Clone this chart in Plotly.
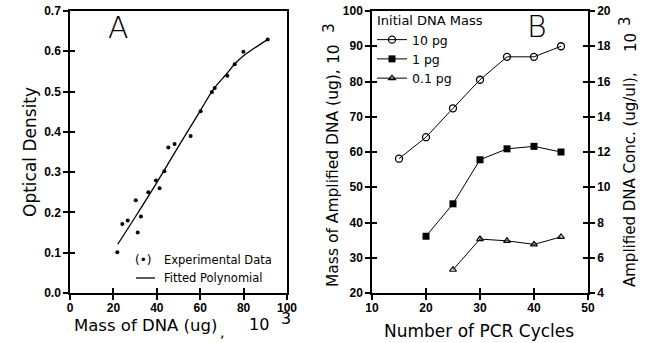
import plotly.graph_objects as go

# ---------------- data ----------------
# Panel A: optical density vs mass of DNA (x 10^3 ug)
exp_mass = [21.8, 24.1, 26.6, 30.3, 31.2, 32.7, 36.1, 39.6, 41.3, 43.5,
            45.3, 48.2, 55.6, 60.2, 65.4, 66.7, 72.5, 75.9, 79.9, 91.1]
exp_od = [0.101, 0.171, 0.180, 0.230, 0.150, 0.190, 0.250, 0.279, 0.260, 0.302,
          0.361, 0.370, 0.390, 0.451, 0.499, 0.509, 0.539, 0.568, 0.599, 0.629]
fit_mass = [22, 30, 40, 50, 60, 66, 72, 76, 80, 85, 91]
fit_od = [0.121, 0.188, 0.274, 0.364, 0.452, 0.505, 0.543, 0.569, 0.589, 0.608, 0.629]

# Panel B: mass of amplified DNA (x 10^3 ug) vs PCR cycles
cycles_10pg = [15, 20, 25, 30, 35, 40, 45]
mass_10pg = [58.1, 64.2, 72.4, 80.5, 87.0, 87.0, 90.0]
cycles_1pg = [20, 25, 30, 35, 40, 45]
mass_1pg = [36.1, 45.3, 57.8, 60.9, 61.6, 60.0]
cycles_01pg = [25, 30, 35, 40, 45]
mass_01pg = [26.6, 35.3, 34.8, 33.8, 35.9]

W, H = 645, 343
TFONT = "DejaVu Sans"
KFONT = "Liberation Sans"


def px(x):
    return x / W


def py(y):
    return 1 - y / H


XA = [px(70), px(287)]
XB = [px(372), px(588)]
YD = [py(293), py(11)]

tickfont = dict(family=KFONT, size=12, color="black", weight="bold")

fig = go.Figure()

# Panel A traces
fig.add_trace(go.Scatter(x=exp_mass, y=exp_od, mode="markers",
                         marker=dict(color="black", size=4),
                         showlegend=False, xaxis="x", yaxis="y"))
fig.add_trace(go.Scatter(x=fit_mass, y=fit_od, mode="lines",
                         line=dict(color="black", width=1.3, shape="spline"),
                         showlegend=False, xaxis="x", yaxis="y"))

# Panel B traces
fig.add_trace(go.Scatter(x=cycles_10pg, y=mass_10pg, mode="lines+markers", name="10 pg",
                         line=dict(color="black", width=1),
                         marker=dict(symbol="circle-open", size=7, color="black",
                                     line=dict(width=1.3)),
                         xaxis="x2", yaxis="y2"))
fig.add_trace(go.Scatter(x=cycles_1pg, y=mass_1pg, mode="lines+markers", name="1 pg",
                         line=dict(color="black", width=1),
                         marker=dict(symbol="square", size=7, color="black"),
                         xaxis="x2", yaxis="y2"))
fig.add_trace(go.Scatter(x=cycles_01pg, y=mass_01pg, mode="lines+markers", name="0.1 pg",
                         line=dict(color="black", width=1),
                         marker=dict(symbol="triangle-up-open", size=6, color="black",
                                     line=dict(width=1.2)),
                         xaxis="x2", yaxis="y2"))

# invisible placeholder traces so the overlay axes (inner ticks, right axis) are drawn
for xa, ya in [("x3", "y3"), ("x2", "y4"), ("x4", "y5"), ("x4", "y6")]:
    fig.add_trace(go.Scatter(x=[None], y=[None], mode="markers", showlegend=False,
                             hoverinfo="skip", xaxis=xa, yaxis=ya))

base = dict(showgrid=False, zeroline=False, linecolor="black", linewidth=1.5,
            tickcolor="black", tickwidth=1.5, ticklen=5, tickfont=tickfont,
            ticklabeloverflow="allow", automargin=False)
inner = dict(showgrid=False, zeroline=False, showline=False, ticks="inside",
             tickcolor="black", tickwidth=1.5, ticklen=5, showticklabels=False,
             automargin=False)

fig.update_layout(
    template="none",
    width=W, height=H,
    margin=dict(l=0, r=0, t=0, b=0, pad=0, autoexpand=False),
    paper_bgcolor="white", plot_bgcolor="white",
    font=dict(family=TFONT, color="black"),
    # Panel A
    xaxis=dict(base, domain=XA, range=[0, 100], dtick=20, anchor="y",
               showline=True, ticks="outside", ticklabelstandoff=-2),
    yaxis=dict(base, domain=YD, range=[0, 0.7], dtick=0.1, tickformat=".1f",
               anchor="x", showline=True, ticks="outside"),
    xaxis3=dict(inner, overlaying="x", range=[0, 100], dtick=20, anchor="y3",
                showline=True, mirror=True, linecolor="black", linewidth=1.5),
    yaxis3=dict(inner, overlaying="y", range=[0, 0.7], dtick=0.1, anchor="x3",
                showline=True, mirror=True, linecolor="black", linewidth=1.5),
    # Panel B
    xaxis2=dict(base, domain=XB, range=[10, 50], dtick=10, anchor="y2",
                showline=True, ticks="outside", ticklabelstandoff=-2),
    yaxis2=dict(base, domain=YD, range=[20, 100], dtick=10, anchor="x2",
                showline=True, ticks="outside"),
    yaxis4=dict(base, overlaying="y2", side="right", range=[4, 20], dtick=2,
                anchor="x2", showline=True, ticks="outside"),
    xaxis4=dict(inner, overlaying="x2", range=[10, 50], dtick=10, anchor="y5",
                showline=True, mirror=True, linecolor="black", linewidth=1.5),
    yaxis5=dict(inner, overlaying="y2", range=[20, 100], dtick=10, anchor="x4"),
    yaxis6=dict(inner, overlaying="y2", side="right", range=[4, 20], dtick=2,
                anchor="x4"),
    showlegend=True,
    legend=dict(x=px(372), y=py(25), xanchor="left", yanchor="top",
                bgcolor="rgba(0,0,0,0)", borderwidth=0,
                font=dict(family=TFONT, size=12.5, color="black"),
                tracegroupgap=0, itemwidth=30),
)

ann = []


def add_text(text, x, y, size, angle=0, xanchor="center", yanchor="middle", weight=None):
    f = dict(family=TFONT, size=size, color="black")
    if weight:
        f["weight"] = weight
    ann.append(dict(text=text, x=px(x), y=py(y), xref="paper", yref="paper",
                    showarrow=False, textangle=angle, xanchor=xanchor, yanchor=yanchor,
                    font=f))


# Panel A labels
add_text("Optical Density", 30, 152, 17, angle=-90)
add_text("Mass of DNA (ug)", 145, 325, 16.5)
add_text(",", 222, 332, 14)
add_text("10", 259, 324, 16)
add_text("3", 286, 318, 16)
add_text("A", 118, 28, 30, weight=200)
add_text("(•)", 143, 260, 12)
add_text("Experimental Data", 162, 260, 11.5, xanchor="left")
add_text("Fitted Polynomial", 162, 278, 11.5, xanchor="left")

# Panel B labels
add_text("Number of PCR Cycles", 479, 331, 17)
add_text("B", 537, 26, 30, weight=200)
add_text("Initial DNA Mass", 375, 21, 13, xanchor="left")
add_text("Mass of Amplified DNA (ug),", 333, 178, 15.5, angle=-90)
add_text("10", 334, 54, 15.5, angle=-90)
add_text("3", 329, 28, 15.5, angle=-90)
add_text("Amplified DNA Conc. (ug/ul),", 630, 180, 15, angle=-90)
add_text("10", 631, 43, 15, angle=-90)
add_text("3", 625, 21, 15, angle=-90)

fig.update_layout(annotations=ann)

# legend glyph for "Fitted Polynomial"
fig.add_shape(type="line", xref="paper", yref="paper",
              x0=px(136), x1=px(155), y0=py(278), y1=py(278),
              line=dict(color="black", width=1.3))

# remove the browser's default 8px body margin so the 645x343 figure fills the window
fig.write_html("out.html", config={"displayModeBar": False},
               post_script="document.body.style.margin='0';"
                           "document.body.style.overflow='hidden';")
